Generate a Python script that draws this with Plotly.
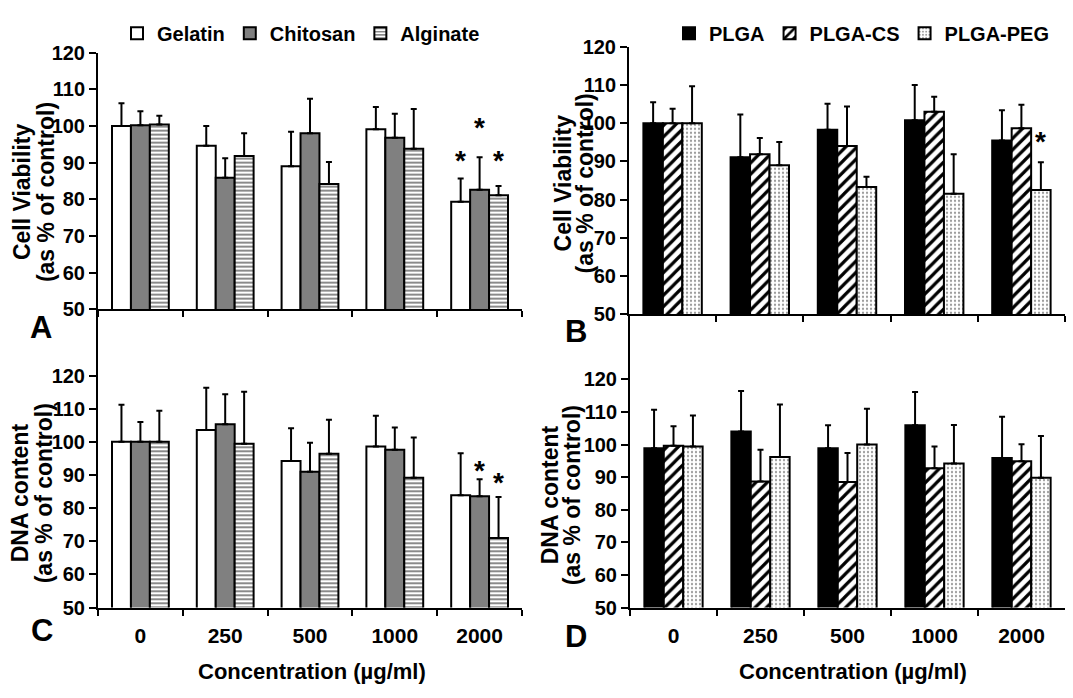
import plotly.graph_objects as go

W, H = 1073, 698
FONT = "Liberation Sans, Arial, sans-serif"

concentrations = ["0", "250", "500", "1000", "2000"]

# Panel A: cell viability, natural polymers
A_names = ["Gelatin", "Chitosan", "Alginate"]
A_gelatin = [100.0, 94.6, 89.0, 99.1, 79.3]
A_gelatin_sd = [6.2, 5.4, 9.4, 6.1, 6.4]
A_chitosan = [100.2, 85.9, 98.0, 96.8, 82.6]
A_chitosan_sd = [3.8, 5.3, 9.4, 6.5, 8.9]
A_alginate = [100.4, 91.8, 84.2, 93.8, 81.1]
A_alginate_sd = [2.4, 6.2, 6.0, 10.8, 2.5]

# Panel B: cell viability, PLGA family
B_names = ["PLGA", "PLGA-CS", "PLGA-PEG"]
B_plga = [100.0, 91.1, 98.3, 100.8, 95.5]
B_plga_sd = [5.5, 11.2, 6.8, 9.2, 7.9]
B_plgacs = [100.0, 91.9, 94.0, 103.0, 98.7]
B_plgacs_sd = [3.8, 4.2, 10.4, 3.9, 6.1]
B_plgapeg = [100.0, 89.0, 83.3, 81.5, 82.5]
B_plgapeg_sd = [9.7, 6.1, 2.7, 10.4, 7.3]

# Panel C: DNA content, natural polymers
C_gelatin = [100.0, 103.6, 94.2, 98.6, 83.9]
C_gelatin_sd = [11.2, 12.7, 9.9, 9.3, 12.7]
C_chitosan = [100.0, 105.3, 91.0, 97.6, 83.6]
C_chitosan_sd = [6.0, 9.1, 8.7, 6.7, 5.1]
C_alginate = [100.0, 99.4, 96.4, 89.2, 71.0]
C_alginate_sd = [9.4, 15.7, 10.3, 12.1, 12.4]

# Panel D: DNA content, PLGA family
D_plga = [98.9, 104.0, 98.9, 105.9, 95.9]
D_plga_sd = [11.8, 12.4, 7.0, 10.2, 12.6]
D_plgacs = [99.6, 88.7, 88.5, 92.7, 94.9]
D_plgacs_sd = [6.0, 9.7, 8.9, 6.7, 5.2]
D_plgapeg = [99.4, 96.2, 100.0, 94.2, 89.8]
D_plgapeg_sd = [9.5, 16.1, 11.0, 11.8, 12.8]

# significance stars: (panel, series index, category index, y position)
stars = [
    ("A", 0, 4, 92.3), ("A", 1, 4, 101.1), ("A", 2, 4, 92.3),
    ("B", 2, 4, 96.8),
    ("C", 1, 4, 93.3), ("C", 2, 4, 89.7),
]

BARGAP = 0.33

natural_styles = [
    dict(color="white", pattern=dict(shape="")),
    dict(color="#808080", pattern=dict(shape="")),
    dict(color="white", pattern=dict(shape="-", fgcolor="#8a8a8a", bgcolor="white",
                                     size=4, solidity=0.5, fillmode="replace")),
]
plga_styles = [
    dict(color="black", pattern=dict(shape="")),
    dict(color="white", pattern=dict(shape="/", fgcolor="black", bgcolor="white",
                                     size=8, solidity=0.4, fillmode="replace")),
    dict(color="white", pattern=dict(shape=".", fgcolor="#9a9a9a", bgcolor="white",
                                     size=4, solidity=0.25, fillmode="replace")),
]

panels = {
    "A": dict(x="x", y="y", names=A_names, styles=natural_styles, legend="legend",
              data=[(A_gelatin, A_gelatin_sd), (A_chitosan, A_chitosan_sd), (A_alginate, A_alginate_sd)]),
    "B": dict(x="x2", y="y2", names=B_names, styles=plga_styles, legend="legend2",
              data=[(B_plga, B_plga_sd), (B_plgacs, B_plgacs_sd), (B_plgapeg, B_plgapeg_sd)]),
    "C": dict(x="x3", y="y3", names=A_names, styles=natural_styles, legend=None,
              data=[(C_gelatin, C_gelatin_sd), (C_chitosan, C_chitosan_sd), (C_alginate, C_alginate_sd)]),
    "D": dict(x="x4", y="y4", names=B_names, styles=plga_styles, legend=None,
              data=[(D_plga, D_plga_sd), (D_plgacs, D_plgacs_sd), (D_plgapeg, D_plgapeg_sd)]),
}

fig = go.Figure()
for key, p in panels.items():
    for i, ((vals, sds), name, st) in enumerate(zip(p["data"], p["names"], p["styles"])):
        fig.add_trace(go.Bar(
            x=concentrations, y=vals, name=name,
            xaxis=p["x"], yaxis=p["y"],
            offsetgroup=str(i),
            showlegend=p["legend"] is not None,
            legend=p["legend"] if p["legend"] else "legend",
            marker=dict(color=st["color"], pattern=st["pattern"],
                        line=dict(color="black", width=2)),
            error_y=dict(type="data", array=sds, arrayminus=[0] * len(sds),
                         symmetric=False, color="black", thickness=2, width=3),
        ))

def px2x(px):
    return px / W

def px2y(py):
    return 1 - py / H

tickfont = dict(family=FONT, size=20, color="black", weight="bold")
common_x = dict(type="category", categoryorder="array", categoryarray=concentrations,
                showline=True, linecolor="black", linewidth=2, ticks="outside",
                tickson="boundaries", ticklen=6, tickwidth=2, tickcolor="black",
                showgrid=False, zeroline=False, fixedrange=True)
common_y = dict(showline=True, linecolor="black", linewidth=2, ticks="outside",
                ticklen=7, tickwidth=2, tickcolor="black", showgrid=False,
                zeroline=False, tickfont=tickfont, tickvals=[50, 60, 70, 80, 90, 100, 110, 120])

fig.update_layout(
    width=W, height=H, margin=dict(l=0, r=0, t=0, b=0),
    paper_bgcolor="white", plot_bgcolor="white",
    barmode="group", bargap=BARGAP, bargroupgap=0,
    font=dict(family=FONT, color="black"),
    xaxis=dict(domain=[px2x(98), px2x(522)], anchor="y", showticklabels=False, **common_x),
    yaxis=dict(domain=[px2y(308), px2y(43)], anchor="x", range=[50, 120], **common_y),
    xaxis2=dict(domain=[px2x(629), px2x(1065)], anchor="y2", showticklabels=False, **common_x),
    yaxis2=dict(domain=[px2y(313), px2y(37)], anchor="x2", range=[50, 120], **common_y),
    xaxis3=dict(domain=[px2x(98), px2x(522)], anchor="y3", showticklabels=True,
                tickfont=dict(family=FONT, size=21, color="black", weight="bold"),
                ticklabelstandoff=8, **common_x),
    yaxis3=dict(domain=[px2y(616), px2y(308)], anchor="x3", range=[50, 140], **common_y),
    xaxis4=dict(domain=[px2x(630), px2x(1065)], anchor="y4", showticklabels=True,
                tickfont=dict(family=FONT, size=21, color="black", weight="bold"),
                ticklabelstandoff=8, **common_x),
    yaxis4=dict(domain=[px2y(616), px2y(313)], anchor="x4", range=[50, 140], **common_y),
    legend=dict(orientation="h", x=px2x(301), xanchor="center", y=px2y(23), yanchor="middle",
                font=dict(family=FONT, size=20, color="black", weight="bold"),
                itemwidth=30, bgcolor="rgba(0,0,0,0)", traceorder="normal"),
    legend2=dict(orientation="h", x=px2x(862), xanchor="center", y=px2y(23), yanchor="middle",
                 font=dict(family=FONT, size=20, color="black", weight="bold"),
                 itemwidth=30, bgcolor="rgba(0,0,0,0)", traceorder="normal"),
)

annotations = []
# y-axis titles (two lines each)
ytitles = [
    ("Cell Viability", "(as % of control)", 22, 46, 187),
    ("Cell Viability", "(as % of control)", 563, 585, 178),
    ("DNA content", "(as % of control)", 20, 44, 498),
    ("DNA content", "(as % of control)", 550, 572, 500),
]
for l1, l2, x1, x2, yc in ytitles:
    for txt, xc in ((l1, x1), (l2, x2)):
        annotations.append(dict(text=txt, x=px2x(xc), y=px2y(yc), xref="paper", yref="paper",
                                xanchor="center", yanchor="middle", textangle=-90, showarrow=False,
                                font=dict(family=FONT, size=23, color="black", weight="bold")))
# x-axis titles
for xc in (312, 853):
    annotations.append(dict(text="Concentration (µg/ml)", x=px2x(xc), y=px2y(682),
                            xref="paper", yref="paper", xanchor="center", yanchor="middle",
                            showarrow=False,
                            font=dict(family=FONT, size=22, color="black", weight="bold")))
# panel letters
for letter, xc, yc in (("A", 41, 327), ("B", 576, 331), ("C", 42, 640), ("D", 576, 646)):
    annotations.append(dict(text=letter, x=px2x(xc), y=px2y(yc), xref="paper", yref="paper",
                            xanchor="center", yanchor="middle", showarrow=False,
                            font=dict(family=FONT, size=31, color="black", weight="bold")))
# significance stars
bar_w = (1 - BARGAP) / 3
for key, si, ci, yv in stars:
    p = panels[key]
    annotations.append(dict(text="*", x=ci + (si - 1) * bar_w, y=yv,
                            xref=p["x"], yref=p["y"], xanchor="center", yanchor="middle",
                            yshift=-6, showarrow=False,
                            font=dict(family=FONT, size=28, color="black", weight="bold")))
fig.update_layout(annotations=annotations)

fig.write_html("out.html", config={"displayModeBar": False},
               post_script="document.body.style.margin='0px';")
